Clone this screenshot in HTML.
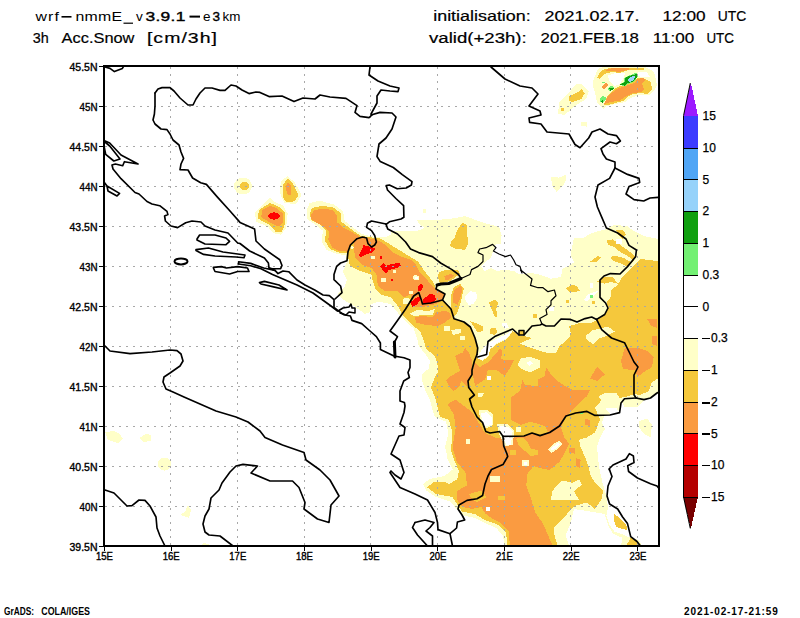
<!DOCTYPE html>
<html><head><meta charset="utf-8"><title>wrf snow</title>
<style>
html,body{margin:0;padding:0;background:#fff;}
body{width:800px;height:618px;overflow:hidden;font-family:"Liberation Sans",sans-serif;}
svg{display:block}
text{font-family:"Liberation Sans",sans-serif;fill:#000}
</style></head><body>
<svg width="800" height="618" viewBox="0 0 800 618">
<rect width="800" height="618" fill="#fff"/>
<defs><clipPath id="c"><rect x="104" y="66" width="555" height="480"/></clipPath></defs>

<g clip-path="url(#c)" shape-rendering="crispEdges">
<polygon points="306.5,211.0 309.7,203.0 319.5,200.6 334.0,204.6 343.0,211.0 344.7,221.0 353.6,228.0 361.7,234.0 374.7,237.0 386.0,237.0 391.0,234.7 391.0,230.6 400.0,231.5 417.9,230.6 424.4,228.0 417.9,222.5 417.0,220.0 437.4,220.0 453.6,218.4 465.0,216.0 473.0,219.0 487.7,224.0 499.0,226.6 501.6,235.5 500.7,243.6 496.0,244.4 493.4,250.0 491.0,258.0 486.0,261.5 481.0,266.4 484.5,271.0 491.0,268.0 497.5,271.0 504.0,269.6 513.7,271.0 520.0,274.5 530.0,273.0 538.0,274.0 551.0,278.7 561.0,277.0 562.5,269.0 574.0,262.5 570.6,254.4 574.0,238.0 583.6,237.7 591.7,233.0 604.7,229.6 614.5,224.7 627.5,226.4 634.0,231.0 643.7,236.0 656.7,238.6 659.0,239.0 659.0,393.0 650.0,398.0 644.0,400.0 637.5,406.5 624.5,406.5 621.0,400.0 619.6,413.0 610.0,415.4 605.0,414.6 601.7,422.7 605.0,429.0 600.0,437.4 597.0,447.0 598.5,461.7 600.0,472.0 603.0,484.6 606.4,496.0 608.0,507.4 606.4,515.5 609.6,525.0 614.5,531.7 624.0,535.0 627.5,536.6 639.0,540.0 642.0,546.0 504.5,546.0 503.0,536.0 496.4,528.0 485.0,523.0 475.0,518.0 462.0,515.0 455.7,508.5 451.0,502.0 436.0,497.0 426.5,490.6 423.0,484.0 429.7,479.0 444.4,476.0 452.5,469.5 447.6,459.7 446.0,450.0 445.0,447.7 448.4,433.0 446.0,421.7 435.0,417.0 432.5,410.0 430.0,400.0 425.0,390.0 422.0,380.0 422.5,373.7 428.7,368.7 430.0,361.0 425.0,353.7 418.7,346.0 417.5,340.0 413.7,328.5 404.0,320.0 396.0,310.6 391.0,304.0 378.0,301.7 371.5,304.0 370.0,312.0 365.0,314.0 353.6,305.7 342.0,299.0 337.4,294.4 344.0,288.0 347.0,279.7 343.0,271.6 347.0,261.5 345.5,255.0 337.4,254.0 326.8,250.0 322.0,242.0 322.7,230.6 316.0,225.0 307.3,219.0" fill="#ffffc8"/>
<polygon points="574.0,509.0 585.0,510.6 604.7,514.0 608.0,525.0 613.0,533.4 622.6,538.0 621.0,546.0 569.0,546.0 565.7,535.0 570.6,523.6 573.0,513.0" fill="#ffffff"/>
<polygon points="465.0,296.0 470.0,291.0 476.0,292.5 477.5,297.5 473.7,303.7 468.7,305.0 465.6,301.0" fill="#ffffff"/>
<polygon points="605.0,407.7 616.4,407.7 619.6,413.4 610.0,414.0" fill="#ffffff"/>
<polygon points="501.0,323.7 506.0,322.5 508.7,327.5 505.0,329.0" fill="#ffffff"/>
<ellipse cx="243.0" cy="186.0" rx="9.0" ry="8.5" fill="#ffffc8"/>
<polygon points="287.7,176.0 281.0,181.0 279.6,192.5 284.5,203.0 296.0,204.0 301.6,195.0 295.0,182.7" fill="#ffffc8"/>
<polygon points="270.0,197.4 261.7,205.5 255.0,212.0 256.0,221.7 268.0,226.6 273.0,233.0 281.0,234.7 286.0,228.0 287.7,213.6 283.0,205.5 274.7,202.0" fill="#ffffc8"/>
<polygon points="551.0,176.8 559.0,177.6 565.7,175.0 566.6,179.0 563.0,185.7 556.8,192.0 552.0,185.7" fill="#ffffc8"/>
<polygon points="423.0,209.0 426.0,209.0 426.0,213.0 423.0,213.0" fill="#ffffc8"/>
<polygon points="557.9,113.6 559.5,102.0 567.6,94.0 575.7,84.4 582.0,84.4 588.7,91.0 586.0,99.0 575.7,105.5 564.4,115.0" fill="#ffffc8"/>
<polygon points="580.6,121.7 587.0,122.0 587.0,126.6 581.0,126.0" fill="#ffffc8"/>
<polygon points="592.5,85.0 594.0,78.0 598.0,69.0 603.0,67.0 645.0,67.0 653.0,71.0 655.0,75.0 657.0,85.0 654.0,91.0 649.0,95.0 637.0,95.5 629.0,99.0 625.0,102.0 615.0,104.0 607.0,106.0 603.0,109.0 597.0,102.0 595.0,92.0" fill="#ffffc8"/>
<polygon points="607.5,75.5 615.0,73.0 625.0,72.5 624.0,77.0 620.0,84.0 615.0,86.0 610.0,82.0" fill="#ffffff"/>
<polygon points="638.0,72.0 647.0,72.5 650.0,77.0 645.0,77.5 638.0,76.0" fill="#ffffff"/>
<polygon points="105.0,432.0 114.0,431.0 120.0,434.0 123.0,439.0 118.0,443.0 108.0,440.0" fill="#ffffc8"/>
<polygon points="139.0,438.0 146.0,434.0 151.0,435.0 151.0,441.0 143.0,442.0" fill="#ffffc8"/>
<ellipse cx="164.5" cy="464.0" rx="6.5" ry="6.5" fill="#ffffc8"/>
<polygon points="188.0,505.0 191.0,510.0 189.0,518.0 180.0,515.0 185.0,512.0" fill="#ffffc8"/>
<polygon points="200.0,546.0 203.0,543.0 209.0,544.0 210.0,546.0" fill="#ffffc8"/>
<polygon points="639.0,421.0 647.0,418.7 652.0,424.4 650.5,437.4 644.0,434.0 639.0,427.0" fill="#ffffc8"/>
<polygon points="309.7,214.4 312.0,208.0 321.0,206.0 332.5,207.0 340.6,212.7 341.4,221.7 352.0,229.8 360.0,235.5 368.0,237.0 381.0,238.7 391.0,245.0 404.0,253.0 409.7,256.6 418.0,261.5 424.4,271.0 432.5,281.0 436.0,288.7 444.4,293.6 442.7,300.0 451.0,309.0 454.0,318.7 464.0,322.0 470.4,327.0 475.0,338.0 477.7,348.0 477.0,354.5 477.5,358.0 482.5,361.0 488.7,356.0 490.0,349.7 497.5,343.5 507.5,338.5 512.6,331.0 519.0,336.0 524.0,336.0 532.0,338.0 527.5,340.0 520.0,343.7 530.0,347.5 540.0,351.0 548.0,353.0 556.0,352.5 559.5,346.0 566.0,341.0 571.0,334.6 569.0,326.0 578.7,323.4 591.7,322.6 598.0,319.4 604.7,314.5 608.8,308.0 606.4,303.0 611.0,296.6 611.0,290.0 617.7,285.0 621.0,278.7 627.5,272.0 634.0,265.0 640.5,259.0 656.7,261.0 659.0,261.0 659.0,378.0 652.0,382.0 649.0,391.0 640.0,395.0 634.0,394.0 627.7,396.4 619.6,398.0 616.4,393.0 605.0,393.0 598.5,396.4 601.7,400.0 595.0,408.0 600.0,419.5 595.0,432.5 587.0,437.4 579.0,439.8 580.6,447.0 587.0,461.7 590.4,474.7 595.0,483.0 603.0,491.0 601.5,499.0 595.0,509.0 587.0,502.5 574.0,506.0 565.7,515.5 559.0,522.0 554.4,527.0 554.4,535.0 557.6,546.0 507.7,546.0 506.0,533.0 498.0,524.7 485.0,520.0 475.0,514.0 462.0,511.7 456.6,503.6 452.5,497.0 436.0,494.0 427.0,487.4 433.0,482.5 444.4,481.7 449.0,484.0 457.4,479.0 459.0,471.0 454.0,459.7 451.0,450.0 452.5,433.0 449.0,420.0 440.0,417.0 437.5,407.5 435.0,397.5 431.0,387.5 433.7,380.0 437.5,372.5 437.5,365.0 435.0,356.0 426.0,348.7 423.7,340.0 420.0,331.0 412.0,325.0 404.0,317.0 397.5,305.7 391.0,297.6 381.0,294.4 376.0,290.0 373.0,282.0 371.5,274.5 360.0,271.0 350.0,266.0 348.7,260.0 347.0,253.4 339.0,252.6 330.0,249.0 325.0,241.0 326.0,230.6 321.0,225.0 311.4,220.0" fill="#f5c83c"/>
<ellipse cx="244.7" cy="186.0" rx="4.5" ry="4.5" fill="#f5c83c"/>
<polygon points="287.7,178.7 283.0,184.4 283.0,197.4 286.0,202.0 295.0,201.4 298.3,195.0 293.4,184.4" fill="#f5c83c"/>
<polygon points="270.0,203.0 259.0,210.0 257.7,218.5 270.0,225.0 275.5,231.5 282.0,231.5 284.5,225.0 285.0,212.0 279.6,207.0" fill="#f5c83c"/>
<polygon points="462.5,222.5 466.6,225.0 468.0,243.6 465.0,250.0 455.0,248.5 449.5,246.0 452.0,240.0 455.0,237.0 457.0,230.6" fill="#f5c83c"/>
<polygon points="438.7,272.5 445.0,270.0 457.5,270.0 460.0,273.7 455.0,277.5 450.0,281.0 440.0,283.7 438.0,277.5" fill="#f5c83c"/>
<polygon points="451.0,296.0 453.7,287.5 460.0,283.7 463.7,288.7 461.0,301.0 457.5,312.5 453.7,317.5 451.0,307.5" fill="#f5c83c"/>
<polygon points="488.7,302.5 495.0,299.4 498.7,303.0 496.0,308.7 497.5,316.0 495.0,317.5 492.0,310.0" fill="#f5c83c"/>
<polygon points="490.0,328.7 495.0,327.5 497.5,331.0 495.0,335.0 490.0,333.7" fill="#f5c83c"/>
<polygon points="470.0,321.0 477.5,323.7 482.5,326.0 482.5,331.0 477.5,332.5 474.0,327.0" fill="#f5c83c"/>
<polygon points="616.0,229.6 622.6,229.6 626.0,234.5 622.6,238.6 617.7,234.5" fill="#f5c83c"/>
<polygon points="606.4,240.6 613.0,239.4 618.6,243.8 624.3,247.9 630.0,252.0 634.8,256.8 633.2,260.0 627.5,256.0 621.0,252.7 614.5,247.0 608.0,244.6" fill="#f5c83c"/>
<polygon points="610.4,256.8 616.0,255.7 624.3,258.4 630.7,261.7 634.8,256.8 633.0,262.0 627.5,266.6 621.0,263.3 613.0,260.9" fill="#f5c83c"/>
<polygon points="590.0,261.7 598.0,256.0 600.7,257.6 596.6,262.5" fill="#f5c83c"/>
<polygon points="565.7,288.5 572.0,285.0 577.0,286.0 580.0,291.0 570.6,292.5" fill="#f5c83c"/>
<polygon points="596.6,282.0 603.0,277.0 613.0,277.0 617.7,283.6 611.0,282.0 604.7,283.6" fill="#f5c83c"/>
<polygon points="566.0,300.0 569.0,300.0 569.0,303.0 566.0,303.0" fill="#f5c83c"/>
<polygon points="592.0,300.5 595.0,300.5 595.0,303.5 592.0,303.5" fill="#f5c83c"/>
<polygon points="533.0,314.0 537.0,314.0 537.0,318.0 533.0,318.0" fill="#f5c83c"/>
<polygon points="613.7,514.0 618.6,517.0 626.0,524.4 627.5,530.0 621.0,528.5 616.0,527.0 614.0,520.0" fill="#f5c83c"/>
<polygon points="626.0,546.0 630.7,538.0 637.0,541.5 640.5,546.0" fill="#f5c83c"/>
<polygon points="569.0,96.6 579.0,91.7 581.4,88.4 584.7,93.3 581.4,99.0 572.5,102.0 569.0,100.6" fill="#f5c83c"/>
<polygon points="561.0,108.0 564.0,108.0 564.0,111.0 561.0,111.0" fill="#f5c83c"/>
<polygon points="597.0,78.0 600.0,72.0 605.0,69.0 613.0,67.5 644.0,67.5 644.0,70.0 628.0,70.0 619.0,73.0 613.0,72.0 607.0,73.0 602.0,76.0 600.0,79.0" fill="#f5c83c"/>
<polygon points="604.0,105.5 607.0,96.0 616.0,88.0 625.0,84.0 634.0,82.0 637.0,78.0 645.0,79.0 651.0,82.0 652.0,89.0 647.0,94.0 640.0,93.0 633.0,94.0 629.0,96.0 623.0,101.0 610.0,104.5" fill="#f5c83c"/>
<polygon points="310.5,215.0 314.6,210.0 322.7,208.7 332.5,210.0 337.4,216.0 336.5,221.7 344.0,228.0 353.6,233.0 360.0,237.0 368.0,238.2 377.5,240.0 383.7,243.7 388.7,248.7 395.0,253.7 402.5,257.0 411.2,260.0 416.2,265.0 420.0,272.5 426.2,278.7 431.2,285.0 436.0,288.7 444.0,293.6 442.7,300.0 436.0,304.0 425.0,306.5 414.0,307.0 412.0,301.0 410.5,294.4 404.0,297.6 397.5,291.0 384.5,291.0 378.0,286.0 377.0,279.0 376.4,274.5 371.5,268.0 361.7,264.7 355.0,258.0 353.6,242.0 348.7,247.0 348.0,251.7 339.0,251.0 332.5,247.7 328.4,240.0 329.0,232.0 324.4,226.6 316.0,222.5 311.4,219.0" fill="#fa9b41"/>
<polygon points="287.7,182.7 285.3,186.8 287.7,195.0 291.0,195.0 291.0,186.0" fill="#fa9b41"/>
<polygon points="270.0,206.0 262.5,210.0 261.0,217.0 270.0,222.5 278.0,226.6 283.0,223.0 283.0,213.6 276.0,208.0" fill="#fa9b41"/>
<polygon points="444.4,276.0 451.0,273.7 453.7,275.6 448.7,280.0 445.0,279.5" fill="#fa9b41"/>
<polygon points="454.4,290.0 460.0,285.6 462.5,288.7 460.0,298.7 457.5,305.0 453.0,302.5 452.5,296.0" fill="#fa9b41"/>
<polygon points="415.0,317.5 422.5,315.6 432.5,317.5 436.0,312.5 445.0,310.6 450.0,313.0 451.0,317.5 445.0,322.5 437.5,326.0 426.0,325.0 416.0,322.5" fill="#fa9b41"/>
<polygon points="455.0,356.0 462.5,352.5 465.0,347.5 469.0,353.0 472.0,360.0 472.0,374.0 468.0,381.0 467.0,386.0 461.0,381.0 460.0,386.0 453.7,391.0 450.0,387.5 446.0,380.0 451.0,376.0 460.0,371.0 457.5,362.5" fill="#fa9b41"/>
<polygon points="447.6,404.0 455.7,399.8 462.5,405.0 472.0,412.0 480.0,425.0 485.0,433.0 496.4,438.0 503.0,437.0 506.0,420.0 511.0,412.0 511.0,397.4 520.0,391.0 522.5,380.0 525.0,385.0 537.5,386.0 537.5,380.0 545.0,376.0 546.0,367.0 550.0,373.0 557.5,381.0 565.0,386.0 572.5,390.0 590.0,390.0 587.0,396.4 582.0,400.0 572.5,409.7 566.0,416.0 561.0,427.6 564.4,437.4 569.0,444.0 564.4,453.6 559.5,461.7 549.7,470.0 540.0,468.0 533.7,466.0 527.0,474.4 526.4,485.7 530.5,497.0 535.0,512.0 543.0,523.6 548.0,535.0 552.7,546.0 510.0,546.0 508.6,531.0 501.0,523.0 491.5,518.0 485.0,513.4 481.7,507.0 472.0,509.0 462.0,507.0 456.6,498.7 457.4,490.6 467.0,485.7 465.5,472.7 456.6,461.4 455.0,455.0 452.5,447.7 455.7,428.0 454.0,415.0" fill="#fa9b41"/>
<polygon points="474.0,362.0 480.0,367.0 487.5,362.5 492.5,357.5 500.0,348.7 502.5,351.0 501.0,358.7 505.0,360.0 514.0,360.0 511.0,366.5 504.5,376.0 496.4,369.7 488.0,369.7 485.0,379.5 475.0,386.0 473.0,375.0" fill="#fa9b41"/>
<polygon points="621.0,360.6 624.5,349.0 626.0,347.6 637.5,347.6 647.0,351.0 653.7,357.4 652.0,367.0 644.0,372.0 637.5,377.0 635.0,370.0 631.0,370.0 623.0,368.7" fill="#fa9b41"/>
<polygon points="597.0,367.0 605.0,374.4 597.0,381.0 590.0,378.5" fill="#fa9b41"/>
<polygon points="647.0,318.6 657.0,318.6 657.0,328.0 651.0,326.0" fill="#fa9b41"/>
<polygon points="652.0,336.0 657.0,336.0 657.0,346.0 652.0,344.0" fill="#fa9b41"/>
<polygon points="584.7,418.7 590.4,420.0 590.0,426.0 585.0,425.0" fill="#fa9b41"/>
<polygon points="569.0,448.0 575.0,448.0 575.0,453.6 569.0,453.0" fill="#fa9b41"/>
<polygon points="575.7,457.7 580.6,460.0 580.0,468.0 576.0,466.0" fill="#fa9b41"/>
<polygon points="604.0,104.0 608.0,96.0 617.0,89.0 628.0,85.0 635.0,83.0 637.0,79.0 643.0,78.0 645.0,80.0 642.0,83.0 644.0,89.0 642.0,92.0 633.0,93.0 625.0,97.0 620.0,100.5 611.0,102.0" fill="#fa9b41"/>
<polygon points="605.0,70.0 613.0,68.0 628.0,67.5 629.0,69.5 619.0,72.0 613.0,71.0 607.0,71.5" fill="#fa9b41"/>
<polygon points="601.5,87.0 606.0,83.0 608.5,84.5 604.0,89.0" fill="#fa9b41"/>
<polygon points="505.0,436.0 506.0,420.0 511.0,412.0 511.0,420.0 520.7,425.0 530.5,421.7 545.0,426.0 548.0,432.0 540.0,435.0 532.0,432.5 524.0,435.5 512.0,436.0" fill="#f5c83c"/>
<polygon points="468.7,494.0 481.7,490.6 486.6,497.0 477.0,502.0 472.0,499.0" fill="#f5c83c"/>
<polygon points="516.0,438.7 522.5,437.5 527.5,442.5 531.0,448.7 537.5,450.0 537.5,455.0 530.0,456.0 525.0,451.0 518.7,445.0" fill="#f5c83c"/>
<polygon points="498.0,496.0 505.0,496.0 505.0,499.6 498.0,499.6" fill="#f5c83c"/>
<polygon points="510.0,450.0 516.0,450.0 516.0,455.0 510.0,455.0" fill="#f5c83c"/>
<ellipse cx="274.0" cy="216.0" rx="6.0" ry="3.6" fill="#ff0000"/>
<polygon points="519.0,330.5 524.0,330.5 524.0,335.0 519.0,335.0" fill="#f5c83c"/>
<polygon points="363.4,245.0 371.5,247.0 375.5,249.0 371.5,252.6 365.0,255.0 360.0,257.4 359.0,255.0 361.7,250.0" fill="#ff0000"/>
<polygon points="380.0,266.0 383.7,262.5 386.0,266.0 392.5,263.7 400.0,263.0 401.0,266.0 395.0,268.7 388.7,270.0 386.0,273.7 382.5,270.0" fill="#ff0000"/>
<polygon points="379.4,256.0 382.0,255.6 382.5,258.7 380.0,258.7" fill="#ff0000"/>
<polygon points="391.0,278.7 393.0,278.7 393.0,281.0 391.0,281.0" fill="#ff0000"/>
<polygon points="418.0,286.0 421.0,283.7 423.7,286.0 421.0,291.0 418.0,291.0" fill="#ff0000"/>
<polygon points="422.5,300.0 430.0,293.7 435.0,295.0 436.0,300.0 431.0,303.7 422.5,303.7" fill="#ff0000"/>
<polygon points="410.0,302.5 415.0,298.7 419.5,296.0 420.0,300.0 417.5,304.0 412.5,307.0" fill="#ff0000"/>
<polygon points="410.0,313.7 417.5,310.0 428.7,311.0 435.0,309.0 432.5,315.0 422.5,315.0 413.7,316.3" fill="#ffffc8"/>
<polygon points="443.7,326.0 450.0,326.0 450.0,331.0 444.0,331.0" fill="#ffffc8"/>
<polygon points="451.0,330.0 461.0,328.7 461.0,333.0 453.0,335.0" fill="#ffffc8"/>
<polygon points="460.0,336.0 465.0,336.0 465.0,340.0 460.0,340.0" fill="#ffffc8"/>
<polygon points="517.5,365.0 521.0,358.0 530.0,357.0 540.0,360.0 540.0,367.5 530.0,372.5 522.5,369.4" fill="#ffffc8"/>
<polygon points="526.0,363.0 530.0,361.0 533.0,363.5 529.0,366.0" fill="#ffffff"/>
<polygon points="585.5,336.0 592.0,330.6 608.0,326.5 614.7,331.4 608.0,335.4 600.0,338.0 593.6,344.4 587.0,340.0" fill="#ffffc8"/>
<polygon points="479.0,410.0 486.6,409.5 493.0,414.0 493.5,425.0 485.0,428.6 480.0,420.0" fill="#ffffc8"/>
<polygon points="481.0,413.6 486.6,412.0 491.5,417.0 491.5,425.0 485.0,426.6 482.0,420.0" fill="#ffffff"/>
<polygon points="497.0,424.0 508.0,424.0 514.0,431.0 513.0,445.0 505.0,446.0 499.0,434.0" fill="#ffffc8"/>
<polygon points="499.6,426.0 507.7,426.6 512.6,431.5 511.0,444.5 506.0,444.5 501.0,433.0" fill="#ffffff"/>
<polygon points="548.0,449.0 553.0,444.0 559.0,441.0 562.0,444.0 558.0,449.0 551.0,453.0" fill="#ffffc8"/>
<polygon points="550.0,449.0 558.0,443.0 560.0,445.0 553.0,450.5" fill="#ffffff"/>
<polygon points="556.0,486.0 562.7,480.4 572.5,483.0 579.0,479.6 582.0,484.5 574.0,491.0 579.0,500.0 551.0,500.0 552.0,492.0" fill="#ffffc8"/>
<polygon points="477.7,392.5 484.0,393.0 482.0,397.4 478.0,397.0" fill="#ffffc8"/>
<polygon points="486.6,376.0 490.7,376.0 490.7,380.0 486.6,380.0" fill="#ffffff"/>
<polygon points="465.5,439.0 470.4,439.0 470.4,443.7 465.5,443.7" fill="#ffffc8"/>
<polygon points="516.0,426.6 520.7,426.6 520.7,431.5 516.0,431.5" fill="#ffffc8"/>
<polygon points="490.0,476.0 499.6,476.0 499.6,481.7 490.0,481.7" fill="#ffffc8"/>
<polygon points="521.5,459.7 529.0,459.7 529.0,466.0 521.5,466.0" fill="#ffffc8"/>
<polygon points="523.5,461.5 527.0,461.5 527.0,464.5 523.5,464.5" fill="#ffffff"/>
<polygon points="486.0,507.0 490.0,507.0 490.0,511.0 486.0,511.0" fill="#ffffff"/>
<polygon points="477.5,356.0 482.5,348.7 488.7,342.5 507.5,333.7 512.0,331.0 507.5,337.5 497.5,342.5 490.0,348.7 488.7,355.0 482.5,360.0 478.5,358.5" fill="#ffffff"/>
<polygon points="370.5,256.4 375.0,256.4 375.0,259.0 370.5,259.0" fill="#ffffc8"/>
<polygon points="380.6,278.5 385.6,278.0 385.6,281.5 381.0,282.0" fill="#ffffc8"/>
<polygon points="412.5,276.0 416.0,275.0 419.4,276.5 419.0,279.5 415.0,280.0 412.5,278.5" fill="#ffffc8"/>
<polygon points="414.5,276.6 417.5,276.6 417.5,278.6 414.5,278.6" fill="#ffffff"/>
<ellipse cx="352.0" cy="247.7" rx="1.7" ry="1.7" fill="#ffffc8"/>
<polygon points="392.5,270.0 395.6,270.0 395.6,273.0 392.5,273.0" fill="#ffffc8"/>
<polygon points="408.7,291.0 413.0,291.0 413.0,294.4 408.7,294.4" fill="#ffffc8"/>
<polygon points="402.5,299.0 407.0,297.5 410.0,299.5 408.0,303.7 403.0,303.7" fill="#ffffc8"/>
<polygon points="615.7,239.4 622.0,239.4 622.0,244.0 615.7,244.0" fill="#ffffff"/>
<polygon points="589.5,282.5 593.0,282.5 593.0,288.0 589.5,288.0" fill="#ffffff"/>
<polygon points="583.6,300.0 588.5,294.0 598.0,291.0 595.0,295.0 587.0,301.0" fill="#ffffff"/>
<polygon points="549.0,307.0 553.5,307.0 553.5,311.0 549.0,311.0" fill="#ffffff"/>
<polygon points="634.5,250.0 637.0,250.0 637.0,252.5 634.5,252.5" fill="#ffffff"/>
<polygon points="600.0,98.0 602.5,96.0 605.5,97.0 605.5,100.0 602.5,103.0 600.5,101.5" fill="#73f073"/>
<polygon points="601.5,100.5 603.0,100.0 603.0,103.0 601.0,102.0" fill="#10a010"/>
<polygon points="607.5,89.0 610.5,86.0 614.5,87.0 613.5,89.5 610.0,91.0" fill="#73f073"/>
<polygon points="609.0,88.5 614.0,87.5 613.0,89.5 610.5,91.0" fill="#10a010"/>
<polygon points="619.5,84.5 624.0,81.5 624.5,77.5 629.0,75.5 637.0,72.5 637.7,77.0 633.5,82.0 627.0,84.0 625.0,86.5" fill="#73f073"/>
<polygon points="620.5,84.5 624.5,82.0 625.0,78.0 629.0,76.0 635.0,74.5 637.0,73.5 637.0,77.0 633.0,81.5 627.0,83.5 625.0,86.0" fill="#10a010"/>
<polygon points="627.5,81.0 629.0,78.0 633.0,76.0 634.8,76.5 634.0,79.5 630.5,82.0" fill="#96d2fa"/>
<polygon points="602.0,81.5 604.5,81.5 604.5,82.5 602.0,82.5" fill="#73f073"/>
<polygon points="589.5,295.0 593.0,295.0 593.0,298.0 589.5,298.0" fill="#73f073"/>
<polygon points="580.0,412.0 584.0,411.5 583.0,414.0 580.0,414.5" fill="#73f073"/>
</g>
<g stroke="#a8a8a8" stroke-width="1" stroke-dasharray="2,5" fill="none" shape-rendering="crispEdges">
<line x1="170.5" y1="67" x2="170.5" y2="545"/>
<line x1="237.5" y1="67" x2="237.5" y2="545"/>
<line x1="304.5" y1="67" x2="304.5" y2="545"/>
<line x1="370.5" y1="67" x2="370.5" y2="545"/>
<line x1="437.5" y1="67" x2="437.5" y2="545"/>
<line x1="504.5" y1="67" x2="504.5" y2="545"/>
<line x1="570.5" y1="67" x2="570.5" y2="545"/>
<line x1="637.5" y1="67" x2="637.5" y2="545"/>
<line x1="105" y1="106.5" x2="658" y2="106.5"/>
<line x1="105" y1="146.5" x2="658" y2="146.5"/>
<line x1="105" y1="186.5" x2="658" y2="186.5"/>
<line x1="105" y1="226.5" x2="658" y2="226.5"/>
<line x1="105" y1="266.5" x2="658" y2="266.5"/>
<line x1="105" y1="306.5" x2="658" y2="306.5"/>
<line x1="105" y1="346.5" x2="658" y2="346.5"/>
<line x1="105" y1="386.5" x2="658" y2="386.5"/>
<line x1="105" y1="426.5" x2="658" y2="426.5"/>
<line x1="105" y1="466.5" x2="658" y2="466.5"/>
<line x1="105" y1="506.5" x2="658" y2="506.5"/>
</g>
<g clip-path="url(#c)" fill="none" stroke="#000" stroke-width="1.65" stroke-linejoin="round" stroke-linecap="round">
<polyline points="155.0,93.0 158.0,89.0 162.0,87.6 170.0,87.6 174.0,91.0 180.0,98.0 188.0,105.0 193.0,105.0 196.0,99.0 200.0,93.0 205.0,88.0 212.0,88.0 220.0,90.4 225.0,90.4 231.0,85.0 236.0,86.0 242.0,90.0 249.0,93.6 256.0,92.0 260.0,92.4 269.0,96.6 282.0,96.0 294.0,101.6 303.0,98.0 315.0,99.0 320.0,95.0 330.0,97.0 346.0,98.4 357.0,105.6 355.0,112.4 360.0,116.4 369.0,117.6 372.0,115.0" stroke-width="1.65"/>
<polyline points="155.0,93.0 155.0,106.0 154.4,114.0 153.0,120.0 155.0,124.0 161.0,129.0 167.0,129.6 170.0,134.0 173.0,140.0 179.0,145.0 181.0,152.0 183.6,158.4 181.0,164.0 180.0,169.6 188.0,170.0 192.6,178.0 200.7,182.8 206.4,184.4 217.0,196.6 230.0,211.0 240.0,222.4 254.6,229.0 256.0,241.0 264.4,249.0 279.8,259.8 282.0,265.5 280.6,268.7 272.5,268.7 269.0,268.0" stroke-width="1.65"/>
<polyline points="105.0,67.0 110.0,68.4 114.4,71.6 122.4,68.4 123.6,66.4" stroke-width="1.65"/>
<polyline points="371.0,115.0 380.0,112.4 392.0,113.0 396.0,117.0 392.0,129.0 386.0,138.0 379.0,144.0 377.0,156.5 380.3,161.6 393.3,167.5 402.3,174.6 412.0,181.7 411.4,185.0 406.2,188.0 397.2,188.8 389.4,185.0 386.2,185.6 387.5,190.0 395.9,198.5 403.6,205.6 403.9,217.3 401.0,219.0 389.4,221.8 386.2,224.4" stroke-width="1.65"/>
<polyline points="371.0,114.0 377.0,103.0 377.0,96.0 381.0,90.0 390.0,91.0 398.0,91.6 399.0,88.0 390.0,86.0 378.0,81.0 369.0,75.0 370.0,67.0" stroke-width="1.65"/>
<polyline points="491.0,67.0 505.0,79.0 520.0,86.0 532.0,88.0 538.0,94.0 529.0,106.0 540.0,111.0 541.0,115.0 529.0,118.0 529.6,122.4 541.0,124.0 547.0,132.0 569.0,134.0 575.0,144.5 580.0,147.7 588.7,138.0 592.0,132.0 600.0,129.0 608.0,134.0 616.4,135.6 620.4,141.0 616.4,143.7 610.0,142.0 601.0,148.6 603.0,154.0 606.4,159.0 615.0,162.0 615.0,168.0" stroke-width="1.65"/>
<polyline points="615.0,168.0 627.5,174.4 639.0,178.4 639.7,182.5 629.0,186.6 626.0,194.0 634.0,199.6 643.7,201.0 650.0,198.0 658.0,197.4" stroke-width="1.65"/>
<polyline points="615.0,168.0 609.6,178.4 598.0,185.0 595.0,197.0 597.4,207.0 601.5,216.6 606.4,228.0 617.7,233.0 626.0,239.0 629.0,245.4 636.4,250.0 635.6,256.8 627.5,266.6 620.0,274.0 610.4,273.6 604.0,276.0 600.0,280.0 600.0,297.4 605.6,303.0 608.0,308.0 604.7,314.5 596.6,319.4" stroke-width="1.65"/>
<polyline points="596.6,319.4 601.7,329.7 611.5,338.0 624.5,342.7 629.4,352.5 634.0,362.0 638.0,367.0 634.0,375.0 634.0,394.7 636.0,398.0" stroke-width="1.65"/>
<polyline points="636.0,398.0 644.0,399.6 650.5,398.0 657.0,393.0 659.0,392.0" stroke-width="1.65"/>
<polyline points="636.0,398.0 624.5,398.8 621.0,403.0 619.6,412.6 610.0,415.0 595.0,415.4 587.0,411.4 575.7,413.0 566.0,416.0 559.5,426.0 549.7,432.5 540.0,435.6 532.0,433.0 524.0,436.0 503.0,436.4" stroke-width="1.65"/>
<polyline points="477.0,354.5 474.4,361.0 472.0,370.0 472.0,374.6 468.0,381.0 468.7,387.6 474.4,395.0 469.6,399.0 472.0,407.0 477.0,417.0 482.6,422.6 485.8,431.5 490.0,433.0 499.6,431.5 503.0,436.4" stroke-width="1.65"/>
<polyline points="503.0,436.4 503.7,446.0 507.0,454.0 507.7,456.5 503.0,464.6 491.5,469.5 488.0,476.0 485.0,484.0 482.6,495.5 477.0,498.7 467.0,500.4 459.0,505.0 458.0,509.0 462.0,515.0 464.7,520.0 457.4,522.0 456.6,528.0 450.0,533.7" stroke-width="1.65"/>
<polyline points="596.6,319.4 591.7,317.0 585.0,318.6 577.0,322.0 570.6,319.4 561.0,319.0 554.4,326.0 546.0,326.0 542.0,324.0 540.0,325.0 532.0,326.0 524.0,335.0 519.0,335.0 512.6,329.0 494.7,336.6 488.0,341.5 486.6,354.5 477.7,357.0" stroke-width="1.65"/>
<polyline points="519.0,335.0 519.0,330.5 524.0,330.5 524.0,335.0" stroke-width="1.5"/>
<polyline points="520.7,270.0 532.0,279.0 530.5,285.4 538.0,287.7 543.0,287.7 548.0,291.7 554.4,290.0 556.0,295.8 551.0,300.7 551.0,304.8 546.0,309.6 547.0,314.5 539.7,318.6 542.0,324.0" stroke-width="1.2"/>
<polyline points="461.0,278.5 470.0,274.5 471.5,269.6 478.0,266.4 483.0,261.5 483.0,255.0 478.0,252.6 479.6,249.0 486.0,247.7 492.6,244.4 496.0,247.7 493.4,251.0 499.0,254.0 505.6,256.6 510.5,255.0 513.7,260.0 516.0,264.7 520.0,266.4 522.0,273.0 520.7,270.0" stroke-width="1.2"/>
<polyline points="437.0,285.0 436.0,289.0 445.0,294.0 442.5,300.0 451.0,309.0 454.0,318.7 464.0,322.0 470.4,327.0 475.0,338.0 477.7,348.0 477.0,354.5" stroke-width="1.65"/>
<polyline points="461.0,278.5 455.0,281.0 448.7,283.5 441.0,284.0 437.0,285.0" stroke-width="3"/>
<polyline points="386.0,224.0 387.7,229.0 397.5,234.0 405.6,242.0 410.5,249.0 418.6,252.6 432.5,256.6 440.6,263.0 452.0,269.6 458.5,274.5 461.0,278.5" stroke-width="1.65"/>
<polyline points="442.5,300.0 431.0,303.0 422.5,304.0 421.0,299.0 418.7,292.5 413.7,296.0 405.6,309.0 397.5,320.4 390.0,331.0 397.5,336.6 394.0,343.0" stroke-width="1.65"/>
<polyline points="394.4,342.0 395.0,357.0" stroke-width="3"/>
<polyline points="386.0,224.0 371.5,221.0 367.4,223.3 366.6,227.4 371.5,230.6 374.7,235.5 376.4,242.0 374.7,245.0 371.5,247.0 368.0,243.6 366.6,238.0 362.6,237.0 357.0,238.7 350.4,245.0 348.0,251.7 347.0,260.7 340.6,263.0 336.6,266.4 334.0,274.5 334.0,279.7 340.6,286.0 342.0,292.7 335.0,299.0" stroke-width="1.65"/>
<polyline points="104.0,140.6 109.7,143.0 121.0,155.0 138.0,164.0 124.4,161.7 122.7,165.7 115.4,164.0 112.0,165.0 113.0,169.0 121.0,178.7 135.0,192.5 139.0,194.0 147.0,201.5 152.0,204.0 159.7,205.7 167.0,211.4 167.9,214.6 164.6,216.0 165.4,221.0 171.0,226.0 177.6,227.6 185.7,222.7 192.0,221.0 201.0,222.0 205.0,226.0 215.0,230.0 228.0,233.0 237.7,243.0 240.0,243.5 249.7,251.0 264.4,258.0 268.4,263.0 269.0,268.0 275.0,270.4 278.0,273.6 283.0,271.0 288.7,271.7 297.0,280.0 305.0,285.0 314.7,290.0 323.0,295.0 329.4,295.6 334.0,299.6 334.0,307.4 338.0,310.6 344.0,314.7 350.4,316.0 352.0,320.4 361.7,323.6 370.0,331.0 376.4,336.6 380.4,343.0 380.4,349.6 387.7,353.0 394.0,356.0 404.0,357.7 410.0,360.0 410.0,367.5 408.0,372.5 409.4,377.5 403.7,381.0 400.0,391.0 400.0,401.0 404.4,402.5 405.0,406.0 404.0,412.5 400.0,424.0 405.0,427.5 404.0,435.0 399.0,436.0 391.0,454.0 400.0,460.0 404.0,472.5 401.0,479.0 395.0,475.0 391.0,471.0 390.0,472.5 400.0,487.5 415.0,494.0 427.5,500.0 435.0,512.5 437.5,522.5 438.0,529.6 450.0,533.7 452.5,546.0" stroke-width="1.65"/>
<polyline points="104.0,146.0 105.7,154.4 113.8,161.0 120.0,159.0 109.7,146.0 105.0,142.0" stroke-width="1.65"/>
<polyline points="104.0,182.0 107.0,186.0 108.0,191.0 117.0,196.0 119.5,193.4 107.0,186.0" stroke-width="1.65"/>
<polyline points="338.0,311.0 343.0,308.0 349.0,307.0 351.0,304.0 352.0,308.0 355.0,308.0 355.0,313.0 349.0,312.0 346.0,315.0 340.0,313.0" stroke-width="1.5"/>
<polyline points="197.0,239.0 199.6,235.0 215.0,235.0 226.0,238.0 229.6,241.4 226.0,244.7 205.0,244.0 197.0,240.0 197.0,239.0" stroke-width="1.65"/>
<polyline points="196.0,249.6 208.5,248.0 223.0,252.0 245.0,255.0 244.0,257.7 236.0,257.0 215.0,256.0 203.6,254.4 196.0,250.5" stroke-width="1.65"/>
<ellipse cx="181" cy="261.4" rx="6.5" ry="3" fill="none" stroke-width="2"/>
<polyline points="213.4,267.4 221.5,266.6 226.4,268.0 237.7,266.6 247.5,268.0 249.0,271.5 237.7,271.5 229.6,274.0 215.0,271.5 213.4,268.0" stroke-width="1.65"/>
<polyline points="238.6,264.0 238.6,261.7 250.7,263.4 263.7,268.0 275.0,270.4" stroke-width="1.65"/>
<polyline points="238.6,264.0 250.7,265.8 261.0,268.7 272.5,274.4 297.0,285.0 313.0,293.0 331.0,306.0 337.5,311.0" stroke-width="1.65"/>
<polyline points="259.5,282.6 264.4,281.4 279.0,285.0 287.0,290.0 272.5,286.6 261.0,284.0 259.5,282.6" stroke-width="1.65"/>
<polyline points="609.6,470.0 612.0,476.5 608.0,486.0 607.0,496.0 609.6,504.0 617.7,509.0 622.6,517.0 627.5,523.6 630.7,536.6 637.0,541.5 640.5,546.0" stroke-width="1.65"/>
<polyline points="609.6,470.0 609.0,469.0 613.0,465.0 626.0,459.0 629.4,453.6 633.4,456.0 634.0,462.6 627.7,465.8 628.6,471.5 637.5,478.0 650.5,483.7 657.0,486.0 659.0,488.6" stroke-width="1.65"/>
<polyline points="415.0,522.5 425.0,520.0 434.0,522.5 430.0,527.5 426.0,531.0 432.5,536.0 432.5,546.0" stroke-width="1.65"/>
<polyline points="415.0,522.5 412.5,527.5 417.5,535.0 427.5,546.0" stroke-width="1.65"/>
<polyline points="105.0,346.0 110.0,351.0 130.0,353.6 152.0,352.0 170.0,350.0 177.0,350.6 181.0,354.0 183.0,361.0 180.0,366.0 170.0,373.0 164.0,377.0 163.0,382.0 166.0,389.0 173.0,392.0 184.0,397.0 200.0,404.0 216.0,411.0 236.0,417.0 248.0,422.0 260.0,431.0 265.0,437.5 282.5,445.0 304.0,452.5 306.0,460.0 320.0,470.0 330.0,480.0 339.0,496.0 331.0,505.0 329.0,522.5 317.5,519.0 304.0,509.0 305.0,502.5 299.0,487.5 292.5,481.0 270.0,481.0 251.0,473.0 257.5,466.0 243.0,464.4 236.0,466.0 230.0,472.0 222.0,483.0 219.0,490.0 211.0,498.0 209.0,509.0 205.0,516.0 203.0,524.0 205.0,532.0 209.0,535.0 220.0,536.0 233.0,546.0" stroke-width="1.65"/>
<polyline points="105.0,490.0 114.0,493.0 122.0,501.0 127.0,506.0 132.0,505.6 139.0,500.0 145.0,500.4 150.0,506.0 156.0,517.0 157.0,528.0 160.0,536.0 165.0,546.0" stroke-width="1.65"/>
</g>
<rect x="104" y="66" width="555" height="480" fill="none" stroke="#000" stroke-width="2" shape-rendering="crispEdges"/>
<g stroke="#000" stroke-width="1" shape-rendering="crispEdges">
<line x1="104.5" y1="547" x2="104.5" y2="551"/>
<line x1="171.5" y1="547" x2="171.5" y2="551"/>
<line x1="237.5" y1="547" x2="237.5" y2="551"/>
<line x1="304.5" y1="547" x2="304.5" y2="551"/>
<line x1="371.5" y1="547" x2="371.5" y2="551"/>
<line x1="437.5" y1="547" x2="437.5" y2="551"/>
<line x1="504.5" y1="547" x2="504.5" y2="551"/>
<line x1="571.5" y1="547" x2="571.5" y2="551"/>
<line x1="637.5" y1="547" x2="637.5" y2="551"/>
<line x1="99" y1="66.5" x2="103" y2="66.5"/>
<line x1="99" y1="106.5" x2="103" y2="106.5"/>
<line x1="99" y1="146.5" x2="103" y2="146.5"/>
<line x1="99" y1="186.5" x2="103" y2="186.5"/>
<line x1="99" y1="226.5" x2="103" y2="226.5"/>
<line x1="99" y1="266.5" x2="103" y2="266.5"/>
<line x1="99" y1="306.5" x2="103" y2="306.5"/>
<line x1="99" y1="346.5" x2="103" y2="346.5"/>
<line x1="99" y1="386.5" x2="103" y2="386.5"/>
<line x1="99" y1="426.5" x2="103" y2="426.5"/>
<line x1="99" y1="466.5" x2="103" y2="466.5"/>
<line x1="99" y1="506.5" x2="103" y2="506.5"/>
<line x1="99" y1="546.5" x2="103" y2="546.5"/>
</g>
<g font-size="11.8" stroke="#000" stroke-width="0.4">
<text x="104.5" y="560" text-anchor="middle" textLength="17" lengthAdjust="spacingAndGlyphs">15E</text>
<text x="171.2" y="560" text-anchor="middle" textLength="17" lengthAdjust="spacingAndGlyphs">16E</text>
<text x="237.8" y="560" text-anchor="middle" textLength="17" lengthAdjust="spacingAndGlyphs">17E</text>
<text x="304.5" y="560" text-anchor="middle" textLength="17" lengthAdjust="spacingAndGlyphs">18E</text>
<text x="371.2" y="560" text-anchor="middle" textLength="17" lengthAdjust="spacingAndGlyphs">19E</text>
<text x="437.9" y="560" text-anchor="middle" textLength="17" lengthAdjust="spacingAndGlyphs">20E</text>
<text x="504.5" y="560" text-anchor="middle" textLength="17" lengthAdjust="spacingAndGlyphs">21E</text>
<text x="571.2" y="560" text-anchor="middle" textLength="17" lengthAdjust="spacingAndGlyphs">22E</text>
<text x="637.9" y="560" text-anchor="middle" textLength="17" lengthAdjust="spacingAndGlyphs">23E</text>
<text x="97.5" y="70.6" text-anchor="end" textLength="28" lengthAdjust="spacingAndGlyphs">45.5N</text>
<text x="97.5" y="110.6" text-anchor="end" textLength="18" lengthAdjust="spacingAndGlyphs">45N</text>
<text x="97.5" y="150.6" text-anchor="end" textLength="28" lengthAdjust="spacingAndGlyphs">44.5N</text>
<text x="97.5" y="190.6" text-anchor="end" textLength="18" lengthAdjust="spacingAndGlyphs">44N</text>
<text x="97.5" y="230.6" text-anchor="end" textLength="28" lengthAdjust="spacingAndGlyphs">43.5N</text>
<text x="97.5" y="270.6" text-anchor="end" textLength="18" lengthAdjust="spacingAndGlyphs">43N</text>
<text x="97.5" y="310.6" text-anchor="end" textLength="28" lengthAdjust="spacingAndGlyphs">42.5N</text>
<text x="97.5" y="350.6" text-anchor="end" textLength="18" lengthAdjust="spacingAndGlyphs">42N</text>
<text x="97.5" y="390.6" text-anchor="end" textLength="28" lengthAdjust="spacingAndGlyphs">41.5N</text>
<text x="97.5" y="430.6" text-anchor="end" textLength="18" lengthAdjust="spacingAndGlyphs">41N</text>
<text x="97.5" y="470.6" text-anchor="end" textLength="28" lengthAdjust="spacingAndGlyphs">40.5N</text>
<text x="97.5" y="510.6" text-anchor="end" textLength="18" lengthAdjust="spacingAndGlyphs">40N</text>
<text x="97.5" y="550.6" text-anchor="end" textLength="28" lengthAdjust="spacingAndGlyphs">39.5N</text>
</g>
<g shape-rendering="crispEdges">
<polygon points="683.5,115.8 690.8,82.5 698,115.8" fill="#9b19ff"/>
<rect x="684" y="115.80" width="14" height="31.75" fill="#3c3cff"/>
<rect x="684" y="147.55" width="14" height="31.75" fill="#50a5f5"/>
<rect x="684" y="179.30" width="14" height="31.75" fill="#96d2fa"/>
<rect x="684" y="211.05" width="14" height="31.75" fill="#10a010"/>
<rect x="684" y="242.80" width="14" height="31.75" fill="#73f073"/>
<rect x="684" y="274.55" width="14" height="31.75" fill="#ffffff"/>
<rect x="684" y="306.30" width="14" height="31.75" fill="#ffffff"/>
<rect x="684" y="338.05" width="14" height="31.75" fill="#ffffc8"/>
<rect x="684" y="369.80" width="14" height="31.75" fill="#f5c83c"/>
<rect x="684" y="401.55" width="14" height="31.75" fill="#fa9b41"/>
<rect x="684" y="433.30" width="14" height="31.75" fill="#ff0000"/>
<rect x="684" y="465.05" width="14" height="31.75" fill="#b40000"/>
<polygon points="683.5,496.8 690.8,529 698,496.8" fill="#780000"/>
<line x1="683.5" y1="115.8" x2="683.5" y2="496.8" stroke="#000" stroke-width="1"/>
<line x1="683" y1="148.5" x2="698" y2="148.5" stroke="#000" stroke-width="1"/>
<line x1="683" y1="179.5" x2="698" y2="179.5" stroke="#000" stroke-width="1"/>
<line x1="683" y1="211.5" x2="698" y2="211.5" stroke="#000" stroke-width="1"/>
<line x1="683" y1="243.5" x2="698" y2="243.5" stroke="#000" stroke-width="1"/>
<line x1="683" y1="275.5" x2="698" y2="275.5" stroke="#000" stroke-width="1"/>
<line x1="683" y1="306.5" x2="698" y2="306.5" stroke="#000" stroke-width="1"/>
<line x1="683" y1="338.5" x2="698" y2="338.5" stroke="#000" stroke-width="1"/>
<line x1="683" y1="370.5" x2="698" y2="370.5" stroke="#000" stroke-width="1"/>
<line x1="683" y1="402.5" x2="698" y2="402.5" stroke="#000" stroke-width="1"/>
<line x1="683" y1="433.5" x2="698" y2="433.5" stroke="#000" stroke-width="1"/>
<line x1="683" y1="465.5" x2="698" y2="465.5" stroke="#000" stroke-width="1"/>
<line x1="683" y1="497.5" x2="698" y2="497.5" stroke="#000" stroke-width="1"/>
</g>
<line x1="683.5" y1="115.8" x2="690.3" y2="83" stroke="#000" stroke-width="1"/>
<line x1="683.5" y1="496.8" x2="690.3" y2="528.5" stroke="#000" stroke-width="1"/>
<g font-size="12" stroke="#000" stroke-width="0.25">
<text x="702.5" y="120.1">15</text>
<text x="702.5" y="151.9">10</text>
<text x="702.5" y="183.6">5</text>
<text x="702.5" y="215.4">2</text>
<text x="702.5" y="247.1">1</text>
<text x="702.5" y="278.9">0.3</text>
<text x="702.5" y="310.6">0</text>
<line x1="702" y1="338.5" x2="710" y2="338.5" stroke="#000" stroke-width="1" shape-rendering="crispEdges"/>
<text x="711" y="342.4">0.3</text>
<line x1="702" y1="370.5" x2="710" y2="370.5" stroke="#000" stroke-width="1" shape-rendering="crispEdges"/>
<text x="711" y="374.1">1</text>
<line x1="702" y1="402.5" x2="710" y2="402.5" stroke="#000" stroke-width="2" shape-rendering="crispEdges"/>
<text x="711" y="405.9">2</text>
<line x1="702" y1="433.5" x2="710" y2="433.5" stroke="#000" stroke-width="2" shape-rendering="crispEdges"/>
<text x="711" y="437.6">5</text>
<line x1="702" y1="465.5" x2="710" y2="465.5" stroke="#000" stroke-width="1" shape-rendering="crispEdges"/>
<text x="711" y="469.4">10</text>
<line x1="702" y1="497.5" x2="710" y2="497.5" stroke="#000" stroke-width="1" shape-rendering="crispEdges"/>
<text x="711" y="501.1">15</text>
</g>
<text transform="translate(35.50,20.60) scale(1.3000,1.000)" font-size="12.21" letter-spacing="0.862" stroke="#000" stroke-width="0.00">wrf</text>
<rect x="61.5" y="16" width="10" height="1.6" fill="#000"/>
<text transform="translate(75.40,20.60) scale(1.3000,1.000)" font-size="12.21" letter-spacing="0.190" stroke="#000" stroke-width="0.00">nmmE</text>
<rect x="123.5" y="22.6" width="9.5" height="1.2" fill="#000"/>
<text transform="translate(136.00,20.60) scale(1.1139,1.000)" font-size="12.21" letter-spacing="0.000" stroke="#000" stroke-width="0.00">v</text>
<text transform="translate(145.50,20.90) scale(1.3000,1.000)" font-size="13.37" letter-spacing="0.238" stroke="#000" stroke-width="0.40">3.9.1</text>
<rect x="189.5" y="15.6" width="10.5" height="2" fill="#000"/>
<text transform="translate(203.00,20.60) scale(1.1045,1.000)" font-size="12.21" letter-spacing="0.000" stroke="#000" stroke-width="0.00">e</text>
<text transform="translate(212.50,20.90) scale(1.0084,1.000)" font-size="13.37" letter-spacing="0.000" stroke="#000" stroke-width="0.40">3</text>
<text transform="translate(222.50,20.60) scale(1.0998,1.000)" font-size="12.21" letter-spacing="0.000" stroke="#000" stroke-width="0.00">km</text>
<text transform="translate(32.70,43.20) scale(0.9608,1.000)" font-size="14.97" letter-spacing="0.000" stroke="#000" stroke-width="0.20">3h</text>
<text transform="translate(61.60,43.20) scale(1.0951,1.000)" font-size="14.97" letter-spacing="0.000" stroke="#000" stroke-width="0.20">Acc.Snow</text>
<text transform="translate(146.90,43.20) scale(1.3000,1.000)" font-size="14.97" letter-spacing="0.806" stroke="#000" stroke-width="0.20">[cm/3h]</text>
<text transform="translate(433.20,20.80) scale(1.2339,1.000)" font-size="14.53" letter-spacing="0.000" stroke="#000" stroke-width="0.20">initialisation:</text>
<text transform="translate(544.60,20.80) scale(1.2359,1.000)" font-size="14.53" letter-spacing="0.000" stroke="#000" stroke-width="0.20">2021.02.17.</text>
<text transform="translate(662.50,20.80) scale(1.1849,1.000)" font-size="14.53" letter-spacing="0.000" stroke="#000" stroke-width="0.20">12:00</text>
<text transform="translate(717.70,20.80) scale(0.9541,1.000)" font-size="14.53" letter-spacing="0.000" stroke="#000" stroke-width="0.20">UTC</text>
<text transform="translate(429.00,42.60) scale(1.2809,1.000)" font-size="14.53" letter-spacing="0.000" stroke="#000" stroke-width="0.20">valid(+23h):</text>
<text transform="translate(540.50,42.60) scale(1.1609,1.000)" font-size="14.53" letter-spacing="0.000" stroke="#000" stroke-width="0.20">2021.FEB.18</text>
<text transform="translate(652.70,42.60) scale(1.1758,1.000)" font-size="14.53" letter-spacing="0.000" stroke="#000" stroke-width="0.20">11:00</text>
<text transform="translate(706.40,42.60) scale(0.9239,1.000)" font-size="14.53" letter-spacing="0.000" stroke="#000" stroke-width="0.20">UTC</text>
<text transform="translate(4.10,615.40) scale(0.8283,1.000)" font-size="10.03" letter-spacing="0.000" font-weight="bold" stroke="#000" stroke-width="0.00">GrADS:</text>
<text transform="translate(41.30,615.40) scale(0.8828,1.000)" font-size="10.03" letter-spacing="0.000" font-weight="bold" stroke="#000" stroke-width="0.00">COLA/IGES</text>
<text transform="translate(684.00,615.40) scale(1.0000,1.000)" font-size="10.03" letter-spacing="0.907" font-weight="bold" stroke="#000" stroke-width="0.00">2021-02-17-21:59</text>
</svg></body></html>
